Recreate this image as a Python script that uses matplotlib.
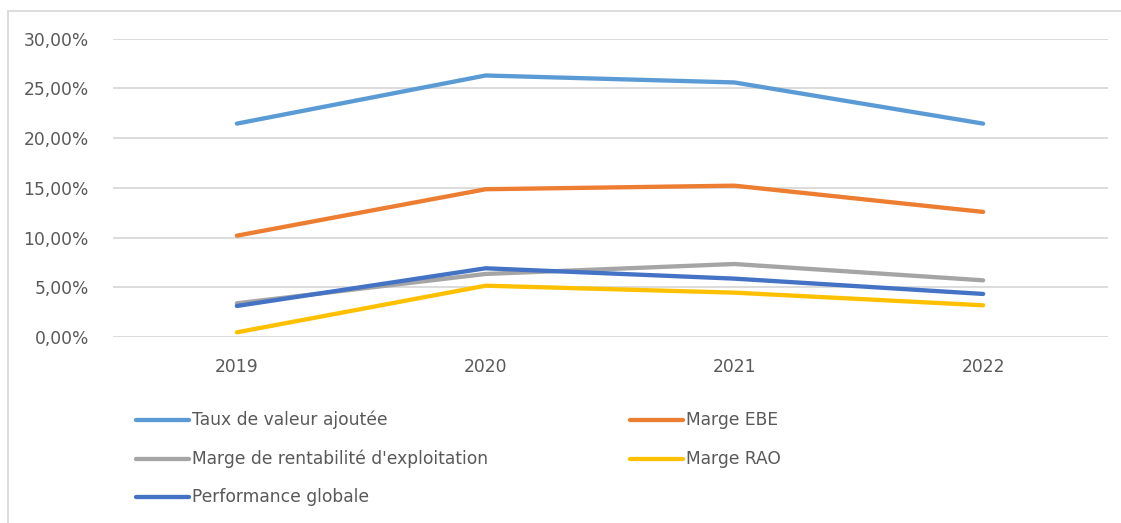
import matplotlib
matplotlib.use("Agg")
import matplotlib.pyplot as plt
from matplotlib.lines import Line2D
from matplotlib.ticker import FuncFormatter

years = ["2019", "2020", "2021", "2022"]
taux_va = [21.46, 26.30, 25.60, 21.46]
marge_ebe = [10.19, 14.86, 15.22, 12.58]
marge_rentab = [3.39, 6.34, 7.34, 5.70]
marge_rao = [0.47, 5.16, 4.46, 3.19]
perf_globale = [3.12, 6.91, 5.87, 4.33]

series_names = ["Taux de valeur ajoutée", "Marge EBE",
                "Marge de rentabilité d'exploitation", "Marge RAO",
                "Performance globale"]
series_values = [taux_va, marge_ebe, marge_rentab, marge_rao, perf_globale]
colors = ["#5B9BD5", "#ED7D31", "#A5A5A5", "#FFC000", "#4472C4"]

W, H = 1121, 523
fig = plt.figure(figsize=(W / 100, H / 100), dpi=100)
plt.rcParams['font.family'] = ['DejaVu Sans']

# outer chart border (top and left only visible)
fig.add_artist(Line2D([8 / W, 1.0], [1 - 11 / H, 1 - 11 / H],
                      transform=fig.transFigure, color="#D9D9D9", lw=1.3))
fig.add_artist(Line2D([8 / W, 8 / W], [0.0, 1 - 11 / H],
                      transform=fig.transFigure, color="#D9D9D9", lw=1.3))

left, right = 112.5 / W, 1107.5 / W
bottom, top = 1 - 337 / H, 1 - 38.7 / H
ax = fig.add_axes([left, bottom, right - left, top - bottom])

x = list(range(len(years)))
for name, vals, c in zip(series_names, series_values, colors):
    ax.plot(x, vals, color=c, lw=3.1, solid_capstyle="round",
            solid_joinstyle="round", label=name, zorder=3)

ax.set_xlim(-0.5, len(years) - 0.5)
ax.set_ylim(0, 30)
ax.set_yticks([0, 5, 10, 15, 20, 25, 30])
ax.yaxis.set_major_formatter(FuncFormatter(lambda v, p: f"{v:.2f}".replace(".", ",") + "%"))
ax.set_xticks(x)
ax.set_xticklabels(years)
ax.grid(axis="y", color="#D9D9D9", lw=1.3, zorder=0)
ax.set_axisbelow(True)
for s in ax.spines.values():
    s.set_visible(False)
ax.tick_params(axis="both", length=0, colors="#595959", labelsize=12.3)
ax.tick_params(axis="y", pad=17)
ax.tick_params(axis="x", pad=15)

# legend (manual layout matching reference)
leg_pos = [(136, 420), (630, 420), (136, 459), (630, 459), (136, 497)]
for (px, py), name, c in zip(leg_pos, series_names, colors):
    fig.add_artist(Line2D([px / W, (px + 53) / W], [1 - py / H, 1 - py / H],
                          transform=fig.transFigure, color=c, lw=3.1,
                          solid_capstyle="round"))
    fig.text((px + 56) / W, 1 - py / H, name, ha="left", va="center",
             fontsize=12.3, color="#595959")

fig.savefig("out.png", dpi=100)
